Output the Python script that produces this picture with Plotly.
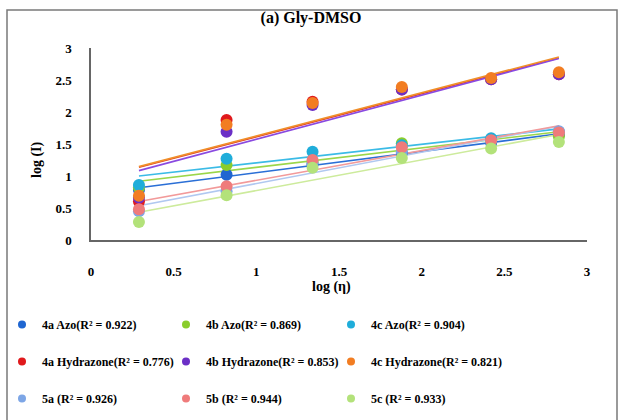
import numpy as np
import plotly.graph_objects as go

# ---- data ----
log_eta = [0.29, 0.82, 1.34, 1.88, 2.42, 2.83]

series_names = [
    "4a Azo(R² = 0.922)", "4b Azo(R² = 0.869)", "4c Azo(R² = 0.904)",
    "4a Hydrazone(R² = 0.776)", "4b Hydrazone(R² = 0.853)", "4c Hydrazone(R² = 0.821)",
    "5a (R² = 0.926)", "5b (R² = 0.944)", "5c (R² = 0.933)",
]
azo_4a = [0.78, 1.02, 1.18, 1.36, 1.52, 1.64]
azo_4b = [0.82, 1.17, 1.22, 1.51, 1.56, 1.62]
azo_4c = [0.86, 1.27, 1.38, 1.48, 1.59, 1.69]
hyd_4a = [0.60, 1.875, 2.16, 2.35, 2.51, 2.59]
hyd_4b = [0.66, 1.69, 2.11, 2.35, 2.51, 2.59]
hyd_4c = [0.69, 1.80, 2.14, 2.39, 2.53, 2.62]
cmp_5a = [0.45, 0.76, 1.20, 1.38, 1.55, 1.70]
cmp_5b = [0.48, 0.84, 1.25, 1.45, 1.56, 1.68]
cmp_5c = [0.28, 0.70, 1.13, 1.28, 1.43, 1.53]
series_values = [azo_4a, azo_4b, azo_4c, hyd_4a, hyd_4b, hyd_4c, cmp_5a, cmp_5b, cmp_5c]

x_title = "log (η)"
y_title = "log (I)"
chart_title = "(a) Gly-DMSO"

colors = ["#1f66d1", "#8acd2c", "#1fadda", "#e0191c", "#6b2fc6", "#f27d22",
          "#7da6e6", "#ef7b7b", "#b3e27a"]
line_colors = ["#2a6fd6", "#9bd64a", "#3bbbe6", "#e03a2a", "#8a4ae0", "#f0902a",
               "#b0c8f0", "#f29a9a", "#cdeb9c"]

x_ticks = [0, 0.5, 1, 1.5, 2, 2.5, 3]
y_ticks = [0, 0.5, 1, 1.5, 2, 2.5, 3]

FONT = "Liberation Serif"

fig = go.Figure()
x_arr = np.array(log_eta)

# trendlines (least squares fit of each series)
for vals, lc in zip(series_values, line_colors):
    k, b = np.polyfit(x_arr, np.array(vals), 1)
    xs = [x_arr.min(), x_arr.max()]
    fig.add_trace(go.Scatter(x=xs, y=[k * v + b for v in xs], mode="lines",
                             line=dict(color=lc, width=1.6), showlegend=False,
                             hoverinfo="skip"))

# legend columns: a-compounds, b-compounds, c-compounds
legend_ids = ["legend", "legend2", "legend3"] * 3
for i, (name, vals, c) in enumerate(zip(series_names, series_values, colors)):
    fig.add_trace(go.Scatter(x=log_eta, y=vals, mode="markers", name=name,
                             marker=dict(color=c, size=12), showlegend=False,
                             legendgroup=name))
    # legend proxy with small marker
    fig.add_trace(go.Scatter(x=[None], y=[None], mode="markers", name=name,
                             marker=dict(color=c, size=8), legendgroup=name,
                             legend=legend_ids[i], showlegend=True))

W, H = 619, 420
L, R, T, B = 91, 32, 48, 180
pw, ph = W - L - R, H - T - B

def px_x(p):
    return (p - L) / pw

def px_y(p):
    return (H - B - p) / ph

leg_common = dict(orientation="v", xanchor="left", yanchor="top",
                  xref="container", yref="container",
                  font=dict(family=FONT, size=12, color="black", weight="bold"),
                  bgcolor="rgba(0,0,0,0)", itemsizing="trace", tracegroupgap=18,
                  traceorder="grouped")

title_font = dict(family=FONT, size=14, color="black", weight="bold")
leg_top = 1 - 310 / H
fig.update_layout(
    width=W, height=H,
    margin=dict(l=L, r=R, t=T, b=B, autoexpand=False),
    paper_bgcolor="white", plot_bgcolor="white",
    font=dict(family=FONT, color="black"),
    title=dict(text=chart_title, x=311 / W, xref="container",
               xanchor="center", y=1 - 17 / H, yanchor="middle",
               font=dict(family=FONT, size=16, color="black", weight="bold")),
    xaxis=dict(range=[0, 3], tickvals=x_ticks, showgrid=False, zeroline=False,
               showline=True, linecolor="#666666", linewidth=2, ticks="",
               ticklabelstandoff=18,
               tickfont=dict(family=FONT, size=13, color="black", weight="bold")),
    yaxis=dict(range=[0, 3], tickvals=y_ticks, showgrid=False, zeroline=False,
               showline=True, linecolor="#666666", linewidth=1.5, ticks="",
               ticklabelstandoff=15,
               tickfont=dict(family=FONT, size=13, color="black", weight="bold")),
    legend=dict(x=2 / W, y=leg_top, **leg_common),
    legend2=dict(x=166 / W, y=leg_top, **leg_common),
    legend3=dict(x=331 / W, y=leg_top, **leg_common),
    annotations=[
        dict(text=x_title, xref="paper", yref="paper", x=px_x(331), y=px_y(287),
             xanchor="center", yanchor="middle", showarrow=False, font=title_font),
        dict(text=y_title, xref="paper", yref="paper", x=px_x(37), y=px_y(160),
             xanchor="center", yanchor="middle", showarrow=False, textangle=-90,
             font=title_font),
    ],
    shapes=[dict(type="rect", xref="paper", yref="paper",
                 x0=px_x(7), x1=px_x(617), y0=px_y(10), y1=px_y(432),
                 line=dict(color="#7a7a7a", width=1.5), fillcolor="rgba(0,0,0,0)",
                 layer="below")],
)

fig.write_html("out.html")
